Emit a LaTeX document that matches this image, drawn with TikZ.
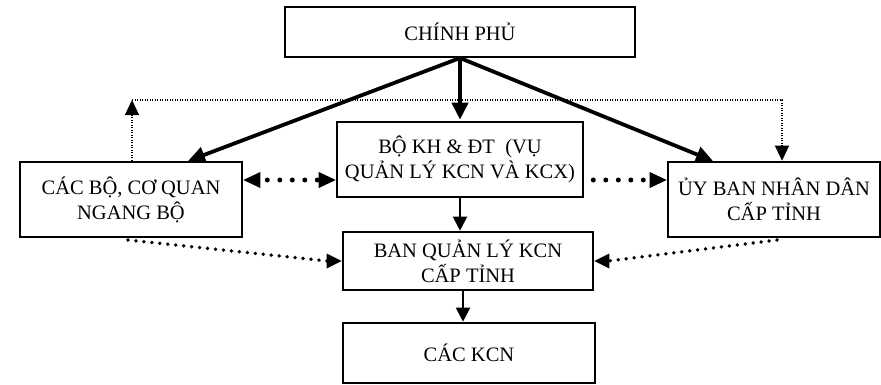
\documentclass[tikz,border=0pt]{standalone}
\usepackage{fontspec}
\setmainfont{Liberation Serif}
\usetikzlibrary{arrows.meta,calc,decorations.markings}
\begin{document}
\begin{tikzpicture}[x=1pt,y=-1pt,
  box/.style={draw,line width=2.6pt,fill=white,align=center,inner sep=0pt,
    font=\fontsize{20.5}{25}\selectfont},
  thickarr/.style={line width=3.8pt,-{Triangle[length=17pt,width=16pt]}},
  solidarr/.style={line width=2pt,-{Triangle[length=14pt,width=14pt]}},
  thindot/.style={line width=1.2pt,dash pattern=on 1.2pt off 1.3pt,-{Triangle[length=15pt,width=14pt]}},
  bigdot/.style={decoration={markings,mark=between positions 0 and 1 step 12.5pt with {\fill (0,0) circle (2.5pt);}},decorate},
  meddot/.style={decoration={markings,mark=between positions 0 and 1 step 8pt with {\fill (0,0) circle (1.9pt);}},decorate},
  headfill/.style={fill=black}
]
\useasboundingbox (0,0) rectangle (881,384);
\node[box,minimum width=350pt,minimum height=50pt] (CP) at (460,32) {CHÍNH PHỦ};
\node[box,minimum width=222pt,minimum height=75pt] (L) at (131,199.5) {CÁC BỘ, CƠ QUAN\\NGANG BỘ};
\node[box,minimum width=246pt,minimum height=75pt] (M) at (460,159.5) {BỘ KH \& ĐT\ \ (VỤ\\QUẢN LÝ KCN VÀ KCX)};
\node[box,minimum width=212pt,minimum height=75pt] (R) at (774,199.5) {ỦY BAN NHÂN DÂN\\CẤP TỈNH};
\node[box,minimum width=250pt,minimum height=58pt] (B) at (468,261) {BAN QUẢN LÝ KCN\\CẤP TỈNH};
\node[box,minimum width=252pt,minimum height=60pt] (K) at (469,353) {CÁC KCN};
% thick arrows from government
\coordinate (cpo) at (460,58);
\coordinate (lt) at (188,161);
\coordinate (rt) at (713,161);
\draw[thickarr] (cpo) -- (lt);
\draw[thickarr] (cpo) -- (rt);
\draw[thickarr] (cpo) -- ($(M.north -| cpo)+(0,-1)$);
% thin dotted loop
\coordinate (ltop) at (132,100);
\coordinate (rtop) at (782,100);
\draw[thindot] (L.north -| ltop) -- (ltop);
\draw[thindot] (ltop) -- (rtop) -- (R.north -| rtop);
% big dotted horizontal arrows
\coordinate (hy) at (0,180);
\path[bigdot] ($(L.east |- hy)+(24,0)$) -- ($(M.west |- hy)+(-16,0)$);
\path[bigdot] ($(M.east |- hy)+(9,0)$) -- ($(R.west |- hy)+(-18,0)$);
\fill[headfill] (L.east |- hy) -- ++(17,-8) -- ++(0,16) -- cycle;
\fill[headfill] (M.west |- hy) -- ++(-17,-8) -- ++(0,16) -- cycle;
\fill[headfill] (R.west |- hy) -- ++(-17,-8) -- ++(0,16) -- cycle;
% slanted dotted arrows into Ban QL
\coordinate (bl) at (128,240);
\coordinate (br) at (777,240);
\path[meddot] (bl) -- ($(B.west)+(-14,0)$);
\fill[headfill] (B.west) -- ++(-15,-7.5) -- ++(0,15) -- cycle;
\path[meddot] (br) -- ($(B.east)+(14,0)$);
\fill[headfill] (B.east) -- ++(15,-7.5) -- ++(0,15) -- cycle;
% solid vertical arrows
\draw[solidarr] (M.south) -- (B.north -| M.south);
\coordinate (kx) at (463,0);
\draw[solidarr] (B.south -| kx) -- (K.north -| kx);
\end{tikzpicture}
\end{document}
